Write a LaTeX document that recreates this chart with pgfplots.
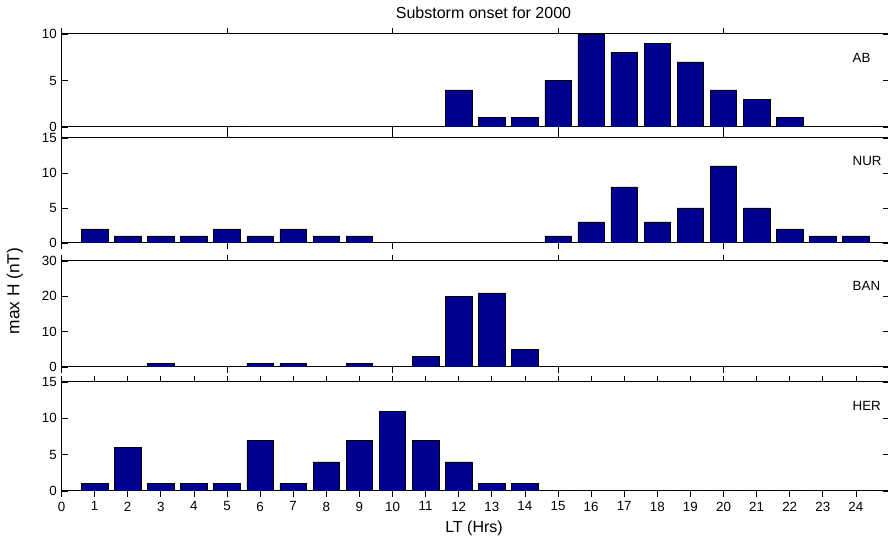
\documentclass[border=0pt]{standalone}
\usepackage{pgfplots}
\pgfplotsset{compat=1.18}
\usepackage{fontspec}
\setmainfont{Liberation Sans}
\definecolor{barblue}{rgb}{0,0,0.5625}
\pgfplotsset{
 panel/.style={
  scale only axis, width=620.625pt, xmin=0, xmax=25, anchor=south west,
  tick align=inside, major tick length=4.5pt,
  ymin=0,
  axis line style={line width=0.75pt}, tick style={line width=0.5pt, black},
  ybar, bar width=0.8,
  tick label style={font=\fontsize{10}{12}\selectfont},
  /pgf/number format/assume math mode=true,
 },
 upper/.style={xtick={0,5,...,25}, xticklabels={}},
 hbar/.style={fill=barblue, draw=black, line width=0.4pt},
}
\begin{document}
\begin{tikzpicture}
\useasboundingbox (0,0) rectangle (666pt,405.75pt);
% AB
\begin{axis}[panel, upper, at={(46.125pt,310.5pt)}, height=69.75pt, ymax=10, ytick={0,5,10}]
\addplot[hbar] coordinates {(1,0)(2,0)(3,0)(4,0)(5,0)(6,0)(7,0)(8,0)(9,0)(10,0)(11,0)(12,4)(13,1)(14,1)(15,5)(16,10)(17,8)(18,9)(19,7)(20,4)(21,3)(22,1)(23,0)(24,0)};
\end{axis}
% NUR
\begin{axis}[panel, upper, at={(46.125pt,223.5pt)}, height=78.75pt, ymax=15, ytick={0,5,10,15}]
\addplot[hbar] coordinates {(1,2)(2,1)(3,1)(4,1)(5,2)(6,1)(7,2)(8,1)(9,1)(10,0)(11,0)(12,0)(13,0)(14,0)(15,1)(16,3)(17,8)(18,3)(19,5)(20,11)(21,5)(22,2)(23,1)(24,1)};
\end{axis}
% BAN
\begin{axis}[panel, upper, at={(46.125pt,130.5pt)}, height=79.5pt, ymax=30, ytick={0,10,20,30}]
\addplot[hbar] coordinates {(1,0)(2,0)(3,1)(4,0)(5,0)(6,1)(7,1)(8,0)(9,1)(10,0)(11,3)(12,20)(13,21)(14,5)(15,0)(16,0)(17,0)(18,0)(19,0)(20,0)(21,0)(22,0)(23,0)(24,0)};
\end{axis}
% HER
\begin{axis}[panel, at={(46.125pt,37.5pt)}, height=81.75pt, ymax=15, ytick={0,5,10,15}, xtick={0,1,...,24}]
\addplot[hbar] coordinates {(1,1)(2,6)(3,1)(4,1)(5,1)(6,7)(7,1)(8,4)(9,7)(10,11)(11,7)(12,4)(13,1)(14,1)(15,0)(16,0)(17,0)(18,0)(19,0)(20,0)(21,0)(22,0)(23,0)(24,0)};
\end{axis}
\node[font=\fontsize{12}{14}\selectfont] at (362.6pt,396pt) {Substorm onset for 2000};
\node[font=\fontsize{13}{15}\selectfont, rotate=90] at (11.25pt,187.5pt) {max H (nT)};
\node[font=\fontsize{12}{14}\selectfont] at (355.5pt,9.75pt) {LT (Hrs)};
\node[font=\fontsize{10}{12}\selectfont, anchor=west] at (636pt,362.25pt) {AB};
\node[font=\fontsize{10}{12}\selectfont, anchor=west] at (636pt,285pt) {NUR};
\node[font=\fontsize{10}{12}\selectfont, anchor=west] at (636pt,191.25pt) {BAN};
\node[font=\fontsize{10}{12}\selectfont, anchor=west] at (636pt,101.25pt) {HER};
\end{tikzpicture}
\end{document}
